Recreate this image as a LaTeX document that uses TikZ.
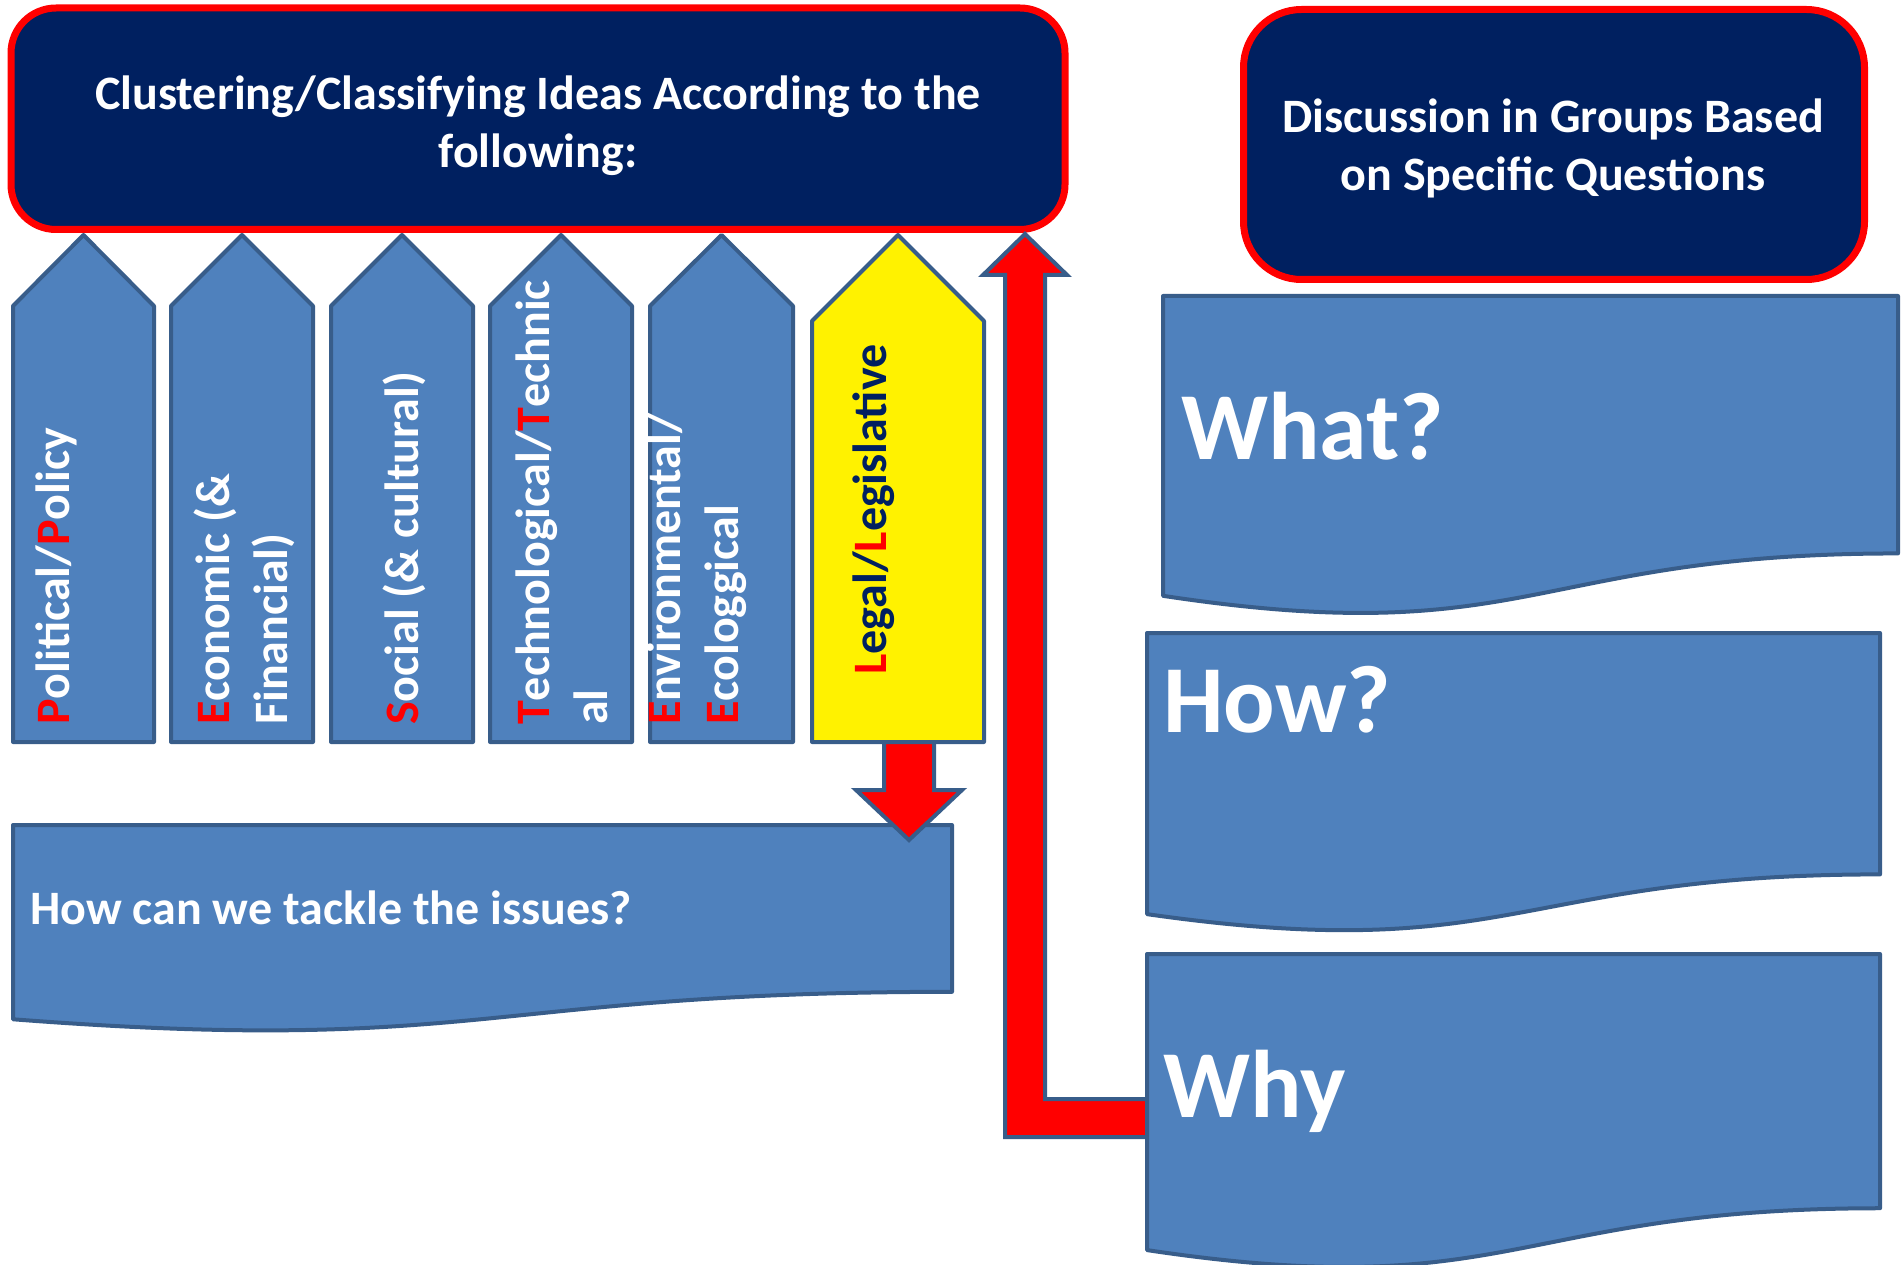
\documentclass[tikz,border=0pt]{standalone}
\usepackage{fontspec}
\setmainfont{Carlito}
\definecolor{navy}{RGB}{0,32,96}
\definecolor{fillblue}{RGB}{79,129,189}
\definecolor{edgeblue}{RGB}{56,93,138}
\newcommand{\docshape}[4]{% L R T H
  \draw[blueshape] (#1,#3) -- (#2,#3) -- (#2,{#3+0.802*#4})
    .. controls ({(#1+#2)/2},{#3+0.802*#4}) and ({(#1+#2)/2},{#3+1.1075*#4}) .. (#1,{#3+0.934*#4}) -- cycle;}
\newcommand{\penta}[6]{% style L R apexY shoulderY bottomY
  \draw[#1] (#2,#5) -- ({(#2+#3)/2},#4) -- (#3,#5) -- (#3,#6) -- (#2,#6) -- cycle;}
\newcommand{\rl}[1]{\textcolor{red}{#1}}
\begin{document}
\begin{tikzpicture}[x=1pt,y=-1pt,
  blueshape/.style={fill=fillblue, draw=edgeblue, line width=4pt, line join=round},
  yellowshape/.style={fill=yellow, draw=edgeblue, line width=4pt, line join=round},
  headbox/.style={fill=navy, draw=red, line width=7pt},
  arrowshape/.style={fill=red, draw=edgeblue, line width=4pt, line join=miter},
  hdtext/.style={font=\fontsize{48}{58}\selectfont\bfseries, text=white, inner sep=0pt, anchor=base},
  lefttext/.style={font=\fontsize{48}{58}\selectfont\bfseries, text=white, inner sep=0pt, anchor=base west},
  coltext/.style={font=\fontsize{48}{58}\selectfont\bfseries, text=white, inner sep=0pt, rotate=90, anchor=base west},
  bigq/.style={font=\fontsize{96}{110}\selectfont\bfseries, text=white, inner sep=0pt, anchor=base west},
]
\fill[white] (0,0) rectangle (1904,1265);
\useasboundingbox (0,0) rectangle (1904,1265);

% header boxes
\draw[headbox, rounded corners=45pt] (11,8) rectangle (1065,229.5);
\node[hdtext] (cl1) at (538,110) {Clustering/Classifying Ideas According to the};
\node[hdtext] (cl2) at (538,168) {following:};

\draw[headbox, rounded corners=58pt] (1243.5,9.5) rectangle (1864.5,279.5);
\node[hdtext] (dg1) at (1553,133) {Discussion in Groups Based};
\node[hdtext] (dg2) at (1553,191) {on Specific Questions};

% category columns
\penta{blueshape}{13}{154}{235}{306}{742}
\penta{blueshape}{171}{313}{235}{306}{742}
\penta{blueshape}{331}{473}{235}{306}{742}
\penta{blueshape}{490}{632}{235}{306}{742}
\penta{blueshape}{650}{793}{235}{306}{742}
\penta{yellowshape}{812}{984}{235}{321}{742}

\node[coltext] (pol) at (69,725) {\rl{P}olitical/\rl{P}olicy};
\node[coltext] (eco1) at (229,725) {\rl{E}conomic (\&};
\node[coltext] (eco2) at (287,725) {Financial)};
\node[coltext] (soc) at (418,725) {\rl{S}ocial (\& cultural)};
\node[coltext] (tec1) at (549,725) {\rl{T}echnological/\rl{T}echnic};
\node[coltext] (tec2) at (607,725) {al};
\node[coltext] (env1) at (680,725) {\rl{E}nvironmental/};
\node[coltext] (env2) at (738,725) {\rl{E}cologgical};
\node[coltext, text=navy] (leg) at (886,675) {\rl{L}egal/\rl{L}egislative};

% bottom-left document box
\docshape{13}{952}{825}{208}
\node[lefttext] (tackle) at (30,924) {How can we tackle the issues?};

% down arrow from Legal to the box
\draw[arrowshape] (884,742) -- (934,742) -- (934,790) -- (962,790) -- (909,840)
  -- (856,790) -- (884,790) -- cycle;

% question boxes
\docshape{1163}{1898}{296}{321}
\node[bigq] (what) at (1181,459) {What?};
\docshape{1147}{1880}{633}{301}
\node[bigq] (how) at (1163,732) {How?};

% red L arrow from Why up to header
\draw[arrowshape] (1150,1099) -- (1045,1099) -- (1045,275) -- (1067,275) -- (1025,234)
  -- (983,275) -- (1005,275) -- (1005,1137) -- (1150,1137) -- cycle;

\docshape{1147}{1880}{954}{317}
\node[bigq] (why) at (1163,1117) {Why};
\end{tikzpicture}
\end{document}
